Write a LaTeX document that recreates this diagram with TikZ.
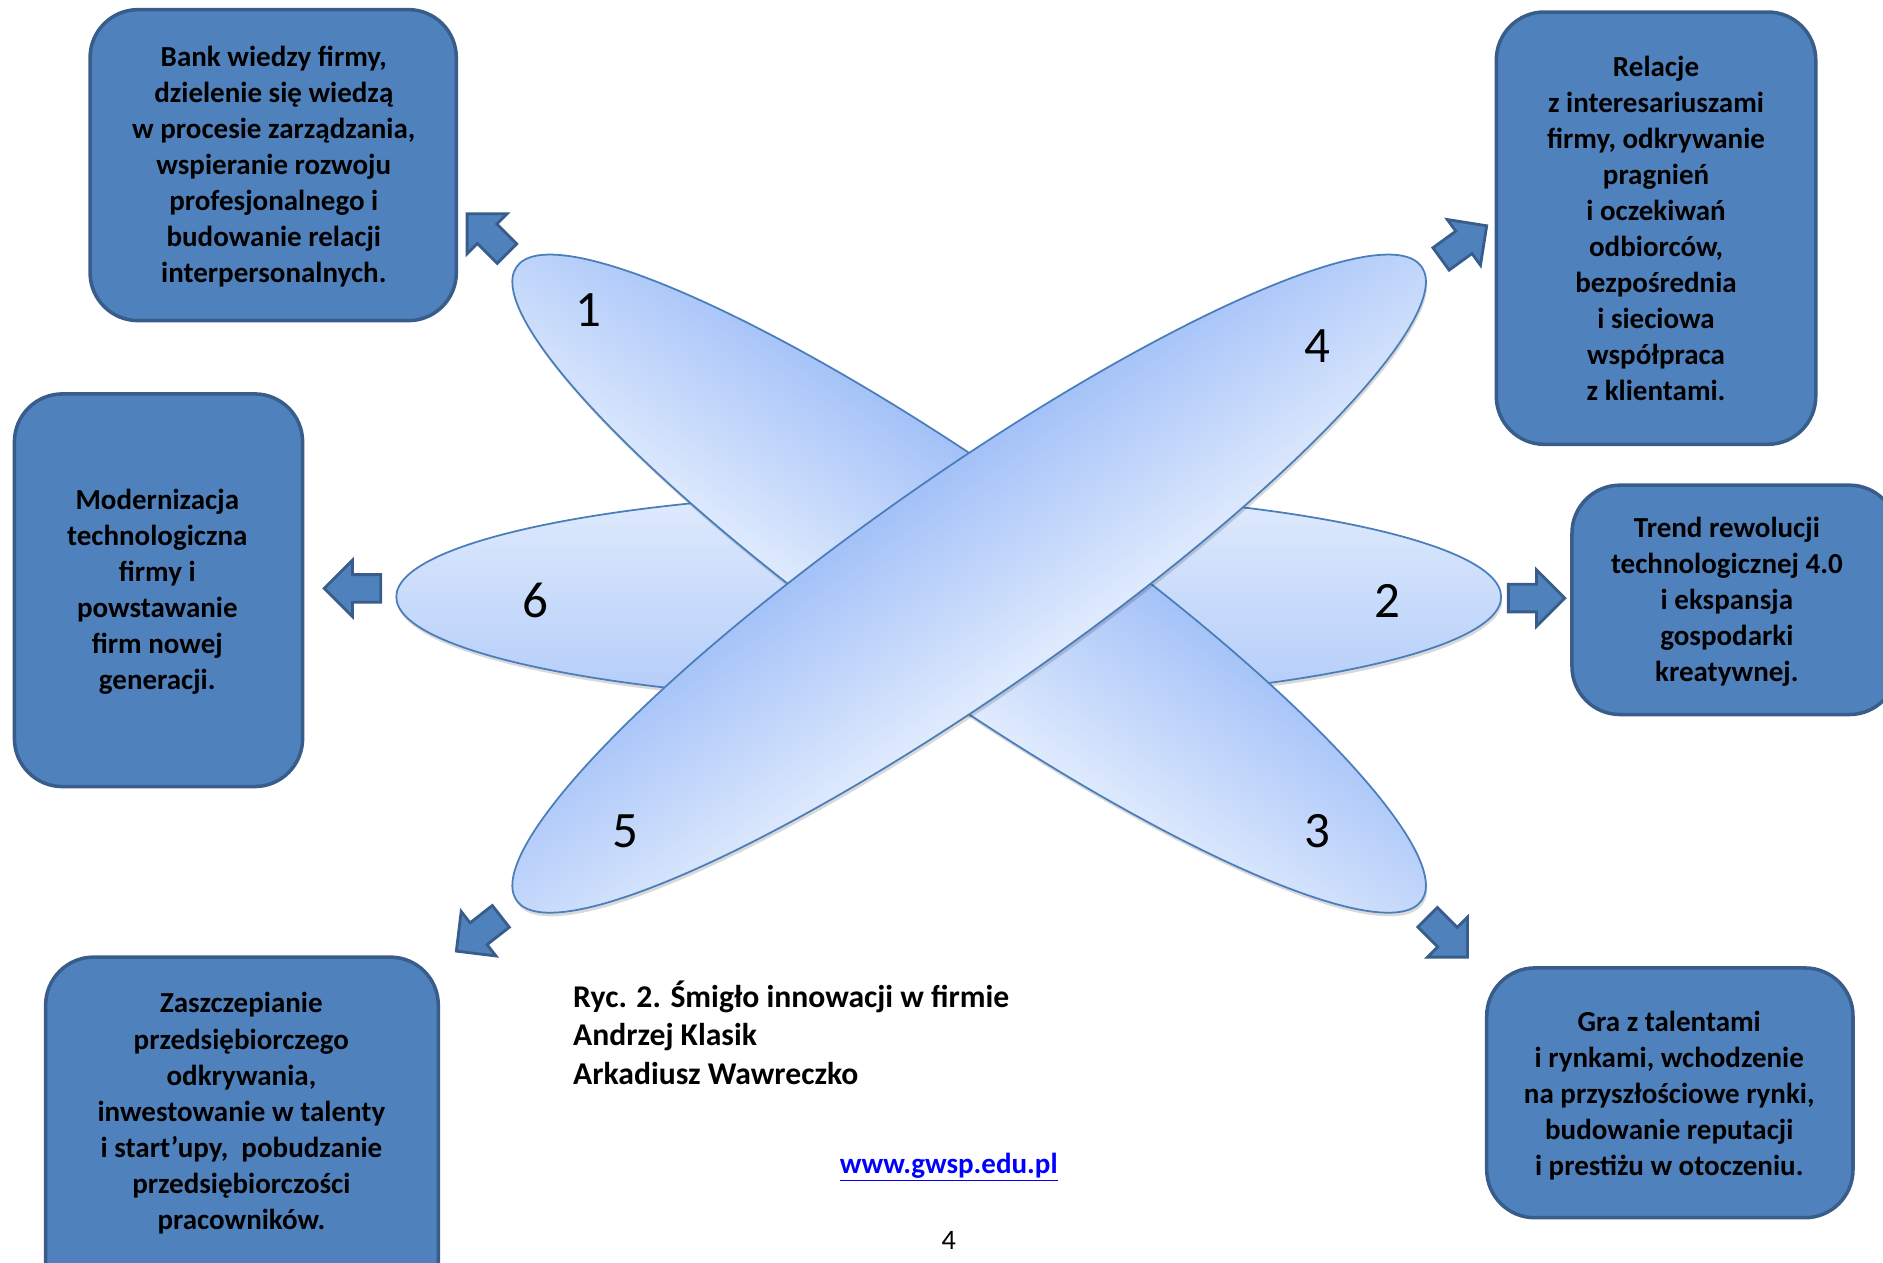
\documentclass[tikz,border=0pt]{standalone}
\usepackage{fontspec}
\setmainfont{Carlito}
\definecolor{boxfill}{HTML}{4F81BD}
\definecolor{boxline}{HTML}{385D8A}
\definecolor{petalline}{HTML}{4A7EBB}
\definecolor{petaldark}{HTML}{A3C1F8}
\definecolor{petaldmid}{HTML}{B1CBF9}
\definecolor{petallight}{HTML}{E0EBFD}
\definecolor{petalhmid}{HTML}{C9DBFA}
\definecolor{petalmid}{HTML}{B3CCF9}
\definecolor{urlblue}{HTML}{0000FF}
\begin{document}
\begin{tikzpicture}[x=0.024cm,y=-0.024cm,
  infobox/.style 2 args={draw=boxline, fill=boxfill, line width=2pt,
    rounded corners=0.96cm, inner sep=0pt,
    minimum width=#1*0.024cm, minimum height=#2*0.024cm},
  boxtext/.style={align=center, text=black,
    font=\fontsize{16.5}{20.5}\selectfont\bfseries},
  numtext/.style={text=black, font=\fontsize{29}{30}\selectfont},
  petal/.style={draw=petalline, line width=1pt},
  petalshadow/.style={fill=black, opacity=0.15},
  arrowstyle/.style={draw=boxline, fill=boxfill, line width=1.6pt, line join=miter},
  blockarrow/.pic={
    \path[arrowstyle] (0,0) -- (-23.5,23.5) -- (-23.5,11.5) -- (-47,11.5)
      -- (-47,-11.5) -- (-23.5,-11.5) -- (-23.5,-23.5) -- cycle;}
]
\useasboundingbox (0,0) rectangle (1568,1051);

% ---------- propeller petals ----------
\begin{scope}[transform canvas={shift={(791,500)}}]
  \fill[petalshadow] (0,0) ellipse [x radius=460, y radius=88];
\end{scope}
\begin{scope}[transform canvas={shift={(790,497)}}]
  \draw[petal, top color=petallight, middle color=petalhmid, bottom color=petalmid] (0,0) ellipse [x radius=460, y radius=88];
\end{scope}

\begin{scope}[transform canvas={shift={(808,489)}, rotate=-35}]
  \fill[petalshadow] (0,0) ellipse [x radius=460, y radius=90];
\end{scope}
\begin{scope}[transform canvas={shift={(807,486)}, rotate=-35}]
  \draw[petal, top color=petaldark, middle color=petaldmid, bottom color=petallight] (0,0) ellipse [x radius=460, y radius=90];
\end{scope}

\begin{scope}[transform canvas={shift={(808,489)}, rotate=35}]
  \fill[petalshadow] (0,0) ellipse [x radius=460, y radius=90];
\end{scope}
\begin{scope}[transform canvas={shift={(807,486)}, rotate=35}]
  \draw[petal, top color=petaldark, middle color=petaldmid, bottom color=petallight] (0,0) ellipse [x radius=460, y radius=90];
\end{scope}

\node[numtext] (n1) at (490,258) {1};
\node[numtext] (n4) at (1097,288) {4};
\node[numtext] (n6) at (446,500) {6};
\node[numtext] (n2) at (1155,500) {2};
\node[numtext] (n5) at (521,692) {5};
\node[numtext] (n3) at (1097,692) {3};

% ---------- block arrows ----------
\pic[rotate=135] at (389,178) {blockarrow};
\pic[rotate=36] at (1238,188) {blockarrow};
\pic[rotate=180] at (270,490) {blockarrow};
\pic[rotate=0] at (1303,498) {blockarrow};
\pic[rotate=218] at (380,792) {blockarrow};
\pic[rotate=-45] at (1222,797) {blockarrow};

% ---------- boxes ----------
\node[infobox={305}{259}] (b1) at (227.5,137.5) {};
\node[infobox={266}{360}] (b4) at (1379,190) {};
\node[infobox={240}{327}] (b6) at (132,491.5) {};
\node[infobox={271}{191}] (b2) at (1444.5,499.5) {};
\node[infobox={327}{293}] (b5) at (201.5,943.5) {};
\node[infobox={305}{208}] (b3) at (1390.5,910) {};

\node[boxtext] (t1) at (228,139) {Bank wiedzy firmy,\\dzielenie się wiedzą\\w procesie zarządzania,\\wspieranie rozwoju\\profesjonalnego i\\budowanie relacji\\interpersonalnych.};
\node[boxtext] (t4) at (1379,190) {Relacje\\z interesariuszami\\firmy, odkrywanie\\pragnień\\i oczekiwań\\odbiorców,\\bezpośrednia\\i sieciowa\\współpraca\\z klientami.};
\node[boxtext] (t6) at (131,493) {Modernizacja\\technologiczna\\firmy i\\powstawanie\\firm nowej\\generacji.};
\node[boxtext] (t2) at (1438,501) {Trend rewolucji\\technologicznej 4.0\\i ekspansja\\gospodarki\\kreatywnej.};
\node[boxtext] (t5) at (201,927) {Zaszczepianie\\przedsiębiorczego\\odkrywania,\\inwestowanie w talenty\\i start’upy,~ pobudzanie\\przedsiębiorczości\\pracowników.};
\node[boxtext] (t3) at (1390,912) {Gra z talentami\\i rynkami, wchodzenie\\na przyszłościowe rynki,\\budowanie reputacji\\i prestiżu w otoczeniu.};

% ---------- caption ----------
\node[anchor=west, align=left, inner sep=0pt, font=\fontsize{18}{21.9}\selectfont\bfseries] (cap) at (477,860)
  {Ryc. 2. Śmigło innowacji w firmie\\Andrzej Klasik\\Arkadiusz Wawreczko};
\node[text=urlblue, font=\fontsize{16.5}{20}\selectfont\bfseries] (url) at (790,972) {\underline{www.gwsp.edu.pl}};
\node[font=\fontsize{16}{18}\selectfont] (pg) at (790,1033) {4};
\end{tikzpicture}
\end{document}
